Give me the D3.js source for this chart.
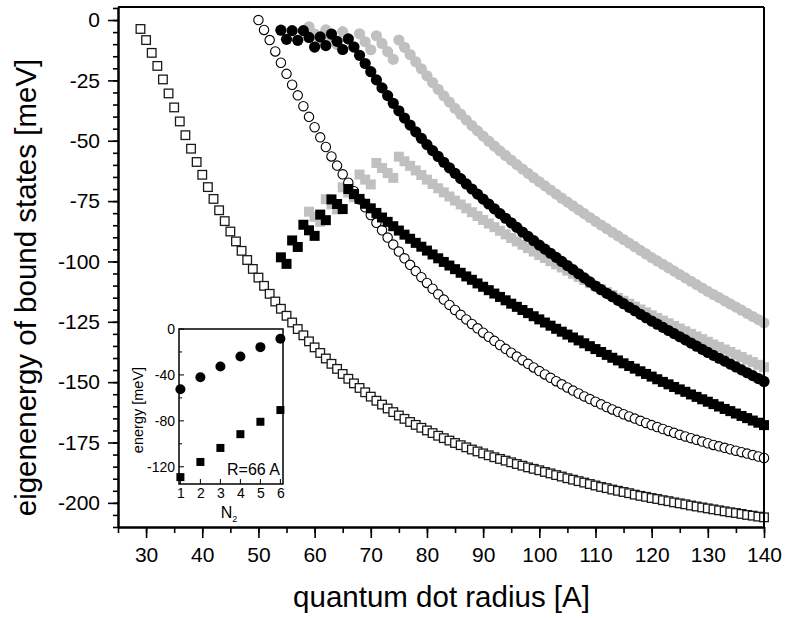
<!DOCTYPE html>
<html><head><meta charset="utf-8">
<script src="https://cdn.jsdelivr.net/npm/d3@7"></script>
<style>body{margin:0;background:#fff} svg text{font-family:"Liberation Sans",Arial,Helvetica,sans-serif;fill:#000}</style>
</head><body><svg id="c" width="786" height="618"></svg>
<script>
// ---------------- data ----------------
const xTicks = [30,40,50,60,70,80,90,100,110,120,130,140];
const yTicks = [0,-25,-50,-75,-100,-125,-150,-175,-200];
const insetXTicks = [1,2,3,4,5,6];
const insetYTicks = [0,-40,-80,-120];

const openSquaresStart = 29;
const openSquares = [-3.7,-8.3,-13.6,-19.0,-24.6,-30.4,-36.2,-42.0,-47.7,-53.3,-58.8,-64.1,-69.2,-74.1,-78.8,-83.3,-87.6,-91.7,-95.6,-99.4,-103.1,-106.7,-110.1,-113.4,-116.6,-119.6,-122.5,-125.3,-128.0,-130.6,-133.1,-135.6,-137.9,-140.2,-142.4,-144.5,-146.6,-148.6,-150.5,-152.4,-154.2,-156.0,-157.7,-159.3,-160.9,-162.4,-163.8,-165.2,-166.5,-167.7,-168.9,-170.0,-171.1,-172.2,-173.2,-174.2,-175.2,-176.1,-177.0,-177.9,-178.7,-179.5,-180.3,-181.1,-181.8,-182.5,-183.2,-183.9,-184.6,-185.3,-185.9,-186.5,-187.2,-187.8,-188.5,-189.1,-189.8,-190.4,-191.0,-191.6,-192.2,-192.8,-193.4,-193.9,-194.5,-195.0,-195.5,-196.0,-196.6,-197.1,-197.5,-198.0,-198.4,-198.9,-199.3,-199.8,-200.2,-200.6,-201.1,-201.5,-201.9,-202.3,-202.7,-203.1,-203.5,-203.9,-204.2,-204.6,-205.0,-205.3,-205.7,-206.0];

const openCirclesStart = 50;
const openCircles = [0.0,-4.1,-8.3,-13.0,-17.7,-22.3,-26.8,-31.2,-35.7,-40.1,-44.4,-48.6,-52.6,-56.5,-60.3,-63.9,-67.4,-70.9,-74.3,-77.6,-80.8,-84.0,-87.1,-90.1,-93.0,-95.9,-98.7,-101.4,-104.0,-106.5,-108.9,-111.3,-113.6,-115.8,-118.0,-120.1,-122.1,-124.0,-125.9,-127.7,-129.5,-131.2,-132.9,-134.6,-136.2,-137.8,-139.4,-140.9,-142.4,-143.9,-145.4,-146.8,-148.2,-149.6,-150.9,-152.2,-153.5,-154.7,-155.9,-157.0,-158.1,-159.2,-160.3,-161.3,-162.3,-163.3,-164.2,-165.1,-166.0,-166.9,-167.8,-168.6,-169.4,-170.2,-171.0,-171.8,-172.5,-173.2,-173.9,-174.6,-175.3,-176.0,-176.6,-177.2,-177.8,-178.4,-179.0,-179.6,-180.2,-180.8,-181.4];

const blackCirclesStart = 54;
const blackCircles = [-4.2,-8.0,-4.4,-8.4,-4.4,-7.2,-11.2,-7.0,-10.6,-5.8,-8.8,-12.2,-7.8,-11.2,-14.6,-18.0,-21.4,-24.8,-28.1,-31.3,-34.5,-37.6,-40.6,-43.5,-46.3,-49.0,-51.6,-54.1,-56.5,-58.9,-61.2,-63.5,-65.7,-67.9,-70.0,-72.1,-74.2,-76.2,-78.2,-80.2,-82.1,-84.0,-85.9,-87.8,-89.6,-91.4,-93.2,-94.9,-96.6,-98.3,-100.0,-101.7,-103.4,-105.1,-106.8,-108.5,-110.2,-111.7,-113.2,-114.6,-116.1,-117.5,-119.0,-120.4,-121.9,-123.3,-124.7,-126.0,-127.3,-128.6,-129.9,-131.2,-132.5,-133.8,-135.1,-136.4,-137.7,-138.9,-140.1,-141.3,-142.5,-143.7,-144.9,-146.1,-147.3,-148.5,-149.7];

const grayCirclesStart = 59;
const grayCircles = [-2.8,-5.8,-8.6,-4.1,-7.2,-10.2,-4.8,-7.9,-11.0,-5.7,-9.0,-12.3,-6.5,-9.7,-13.1,-16.3,-8.3,-11.3,-14.3,-17.3,-20.2,-23.1,-25.9,-28.7,-31.4,-34.0,-36.6,-39.0,-41.4,-43.7,-45.9,-48.1,-50.2,-52.2,-54.2,-56.1,-58.0,-59.9,-61.7,-63.5,-65.3,-67.0,-68.7,-70.4,-72.1,-73.8,-75.4,-77.0,-78.6,-80.2,-81.8,-83.4,-84.9,-86.4,-87.9,-89.4,-90.9,-92.4,-93.9,-95.4,-96.9,-98.4,-99.8,-101.2,-102.6,-104.0,-105.4,-106.8,-108.2,-109.6,-111.0,-112.4,-113.7,-115.0,-116.3,-117.6,-118.9,-120.2,-121.5,-122.8,-124.1,-125.4];

const blackSquaresStart = 54;
const blackSquares = [-98.3,-101.0,-91.3,-94.0,-84.8,-87.1,-89.4,-80.6,-82.9,-74.3,-76.2,-78.3,-70.0,-72.1,-74.1,-76.1,-78.0,-79.9,-81.8,-83.6,-85.4,-87.2,-88.9,-90.6,-92.3,-93.9,-95.5,-97.1,-98.7,-100.2,-101.7,-103.2,-104.7,-106.2,-107.6,-109.1,-110.5,-111.9,-113.3,-114.7,-116.1,-117.5,-118.8,-120.1,-121.4,-122.7,-124.0,-125.3,-126.6,-127.9,-129.1,-130.3,-131.5,-132.7,-133.9,-135.1,-136.3,-137.5,-138.7,-139.9,-141.0,-142.2,-143.3,-144.4,-145.5,-146.6,-147.7,-148.8,-149.9,-150.9,-152.0,-153.0,-154.0,-155.1,-156.1,-157.1,-158.1,-159.1,-160.1,-161.1,-162.0,-163.0,-164.0,-164.9,-165.9,-166.8,-167.8];

const graySquaresStart = 59;
const graySquares = [-79.4,-81.5,-83.6,-74.2,-76.3,-78.4,-69.3,-71.4,-73.4,-64.0,-66.1,-68.1,-59.2,-61.3,-63.4,-65.4,-56.6,-58.5,-60.4,-62.3,-64.2,-66.1,-67.9,-69.7,-71.4,-73.1,-74.8,-76.4,-78.0,-79.6,-81.2,-82.8,-84.3,-85.8,-87.3,-88.8,-90.3,-91.7,-93.1,-94.5,-95.9,-97.3,-98.6,-99.9,-101.2,-102.5,-103.8,-105.1,-106.4,-107.7,-109.0,-110.3,-111.5,-112.7,-113.9,-115.1,-116.3,-117.5,-118.7,-119.9,-121.1,-122.3,-123.4,-124.5,-125.6,-126.7,-127.8,-128.9,-130.0,-131.1,-132.2,-133.3,-134.4,-135.4,-136.5,-137.5,-138.6,-139.6,-140.7,-141.7,-142.8,-143.8];

const insetN = [1,2,3,4,5,6];
const insetCircles = [-52.5,-42.0,-32.7,-24.0,-15.8,-8.5];
const insetSquares = [-129.0,-115.8,-103.6,-91.6,-80.8,-70.6];

// ---------------- chart ----------------
const svg = d3.select("#c");
const L = 118, R = 764, T = 7, B = 527;
const x = d3.scaleLinear().domain([25,140]).range([L,R]);
const y = d3.scaleLinear().domain([5.4,-210]).range([T,B]);
const fmt = d => String(d);

function pts(start, vals){ return vals.map((v,i)=>({r:start+i, e:v})); }

const plot = svg.append("g");
function squares(data, size, fill, stroke, sw){
  plot.append("g").selectAll("rect").data(data).join("rect")
    .attr("x", d=>x(d.r)-size/2).attr("y", d=>y(d.e)-size/2)
    .attr("width", size).attr("height", size)
    .attr("fill", fill).attr("stroke", stroke).attr("stroke-width", sw);
}
function circles(data, rad, fill, stroke, sw){
  plot.append("g").selectAll("circle").data(data).join("circle")
    .attr("cx", d=>x(d.r)).attr("cy", d=>y(d.e)).attr("r", rad)
    .attr("fill", fill).attr("stroke", stroke).attr("stroke-width", sw);
}
const GRAY = "#c0c0c0";
squares(pts(graySquaresStart, graySquares), 10, GRAY, "none", 0);
circles(pts(grayCirclesStart, grayCircles), 5.6, GRAY, "none", 0);
squares(pts(openSquaresStart, openSquares), 8.6, "#fff", "#1a1a1a", 1.3);
circles(pts(openCirclesStart, openCircles), 4.7, "#fff", "#000", 1.1);
squares(pts(blackSquaresStart, blackSquares), 10, "#000", "none", 0);
circles(pts(blackCirclesStart, blackCircles), 5.6, "#000", "none", 0);

// axes
const yMinor = d3.range(5, -211, -5);
const xMinor = d3.range(25, 141, 5);
const axY = svg.append("g").attr("transform",`translate(${L},0)`)
  .call(d3.axisLeft(y).tickValues(yMinor).tickSize(5).tickFormat("").tickSizeOuter(0));
const axY2 = svg.append("g").attr("transform",`translate(${L},0)`)
  .call(d3.axisLeft(y).tickValues(yTicks).tickSize(10).tickPadding(8).tickFormat(fmt).tickSizeOuter(0));
const axX = svg.append("g").attr("transform",`translate(0,${B})`)
  .call(d3.axisBottom(x).tickValues(xMinor).tickSize(6).tickFormat("").tickSizeOuter(0));
const axX2 = svg.append("g").attr("transform",`translate(0,${B})`)
  .call(d3.axisBottom(x).tickValues(xTicks).tickSize(11).tickPadding(9).tickFormat(fmt).tickSizeOuter(0));
[axY,axY2,axX,axX2].forEach(a=>{
  a.selectAll("path.domain").attr("stroke","#000").attr("stroke-width",2);
  a.selectAll(".tick line").attr("stroke","#000").attr("stroke-width",1.6);
  a.selectAll("text").style("font-size","21px").attr("fill","#000");
});
// frame (top, right)
svg.append("line").attr("x1",L).attr("x2",R).attr("y1",T).attr("y2",T).attr("stroke","#000").attr("stroke-width",2);
svg.append("line").attr("x1",R).attr("x2",R).attr("y1",T).attr("y2",B).attr("stroke","#000").attr("stroke-width",2);

// titles
svg.append("text").attr("x",441.5).attr("y",607).attr("text-anchor","middle")
  .style("font-size","29.5px").text("quantum dot radius [A]");
svg.append("text").attr("transform","translate(36,287.5) rotate(-90)").attr("text-anchor","middle")
  .style("font-size","29.5px").text("eigenenergy of bound states [meV]");

// ---------------- inset ----------------
const iL = 179, iR = 283, iT = 329, iB = 484;
const ix = d3.scaleLinear().domain([0.93,6.13]).range([iL,iR]);
const iy = d3.scaleLinear().domain([0,-135]).range([iT,iB]);
const inset = svg.append("g");
inset.append("rect").attr("x",iL).attr("y",iT).attr("width",iR-iL).attr("height",iB-iT)
  .attr("fill","#fff").attr("stroke","none");
const iyAx = inset.append("g").attr("transform",`translate(${iL},0)`)
  .call(d3.axisLeft(iy).tickValues(insetYTicks).tickSize(0).tickPadding(4).tickFormat(fmt).tickSizeOuter(0));
iyAx.selectAll("text").style("font-size","14px");
iyAx.select("path.domain").remove();
const ixAx = inset.append("g").attr("transform",`translate(0,${iB})`)
  .call(d3.axisBottom(ix).tickValues(insetXTicks).tickSize(0).tickPadding(4).tickFormat(fmt).tickSizeOuter(0));
ixAx.selectAll("text").style("font-size","14px");
ixAx.select("path.domain").remove();
// inward ticks
inset.append("g").selectAll("line").data(d3.range(0,-136,-20)).join("line")
  .attr("x1",iL).attr("x2",d=>iL+(d%40===0?5:3)).attr("y1",d=>iy(d)).attr("y2",d=>iy(d))
  .attr("stroke","#000").attr("stroke-width",1);
inset.append("g").selectAll("line").data(insetXTicks).join("line")
  .attr("x1",d=>ix(d)).attr("x2",d=>ix(d)).attr("y1",iB).attr("y2",iB-5)
  .attr("stroke","#000").attr("stroke-width",1);
inset.append("g").selectAll("circle").data(insetN.map((n,i)=>({n, e:insetCircles[i]}))).join("circle")
  .attr("cx",d=>ix(d.n)).attr("cy",d=>iy(d.e)).attr("r",5).attr("fill","#000");
inset.append("g").selectAll("rect").data(insetN.map((n,i)=>({n, e:insetSquares[i]}))).join("rect")
  .attr("x",d=>ix(d.n)-4).attr("y",d=>iy(d.e)-4).attr("width",8).attr("height",8).attr("fill","#000");
inset.append("rect").attr("x",iL).attr("y",iT).attr("width",iR-iL).attr("height",iB-iT)
  .attr("fill","none").attr("stroke","#000").attr("stroke-width",1.5);
inset.append("text").attr("x",iR-3).attr("y",475).attr("text-anchor","end")
  .style("font-size","16px").text("R=66 A");
const nl = inset.append("text").attr("x",229).attr("y",518).attr("text-anchor","middle").style("font-size","16px");
nl.append("tspan").text("N");
nl.append("tspan").attr("dy",4).style("font-size","9px").text("2");
inset.append("text").attr("transform","translate(143,410) rotate(-90)").attr("text-anchor","middle")
  .style("font-size","14.5px").text("energy [meV]");
</script></body></html>
